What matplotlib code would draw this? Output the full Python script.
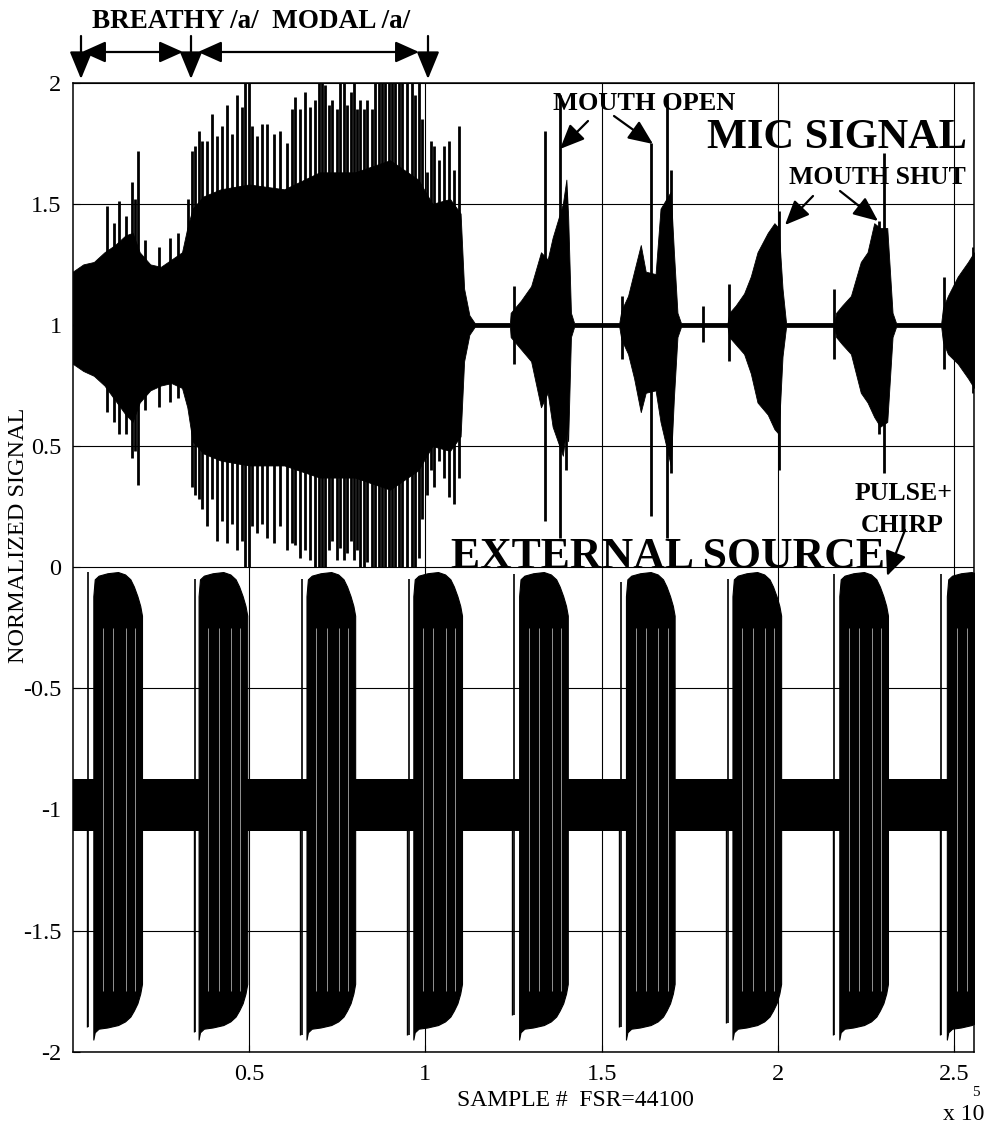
import numpy as np
import matplotlib
matplotlib.use("Agg")
import matplotlib.pyplot as plt
from matplotlib.patches import FancyArrowPatch

plt.rcParams['font.family'] = ['Liberation Serif', 'DejaVu Serif']

# ---------------- data (x in units of 1e5 samples) ----------------
# MIC SIGNAL (centred on +1): dense core envelope
mic_x = [0.000, 0.030, 0.060, 0.090, 0.120, 0.150, 0.170, 0.190, 0.220, 0.250, 0.280, 0.310, 0.325, 0.340,
         0.370, 0.420, 0.500, 0.600, 0.700, 0.800, 0.900, 0.980, 1.020, 1.070, 1.100, 1.110, 1.125, 1.140,
         1.240, 1.242, 1.271, 1.300, 1.328, 1.347, 1.361, 1.390, 1.400, 1.405, 1.413, 1.422,
         1.550, 1.556, 1.575, 1.592, 1.611, 1.625, 1.653, 1.667, 1.696, 1.705, 1.715, 1.725,
         1.857, 1.862, 1.880, 1.904, 1.923, 1.942, 1.971, 1.990, 2.002, 2.013, 2.023,
         2.160, 2.165, 2.182, 2.207, 2.235, 2.254, 2.273, 2.290, 2.310, 2.325, 2.335,
         2.463, 2.468, 2.482, 2.510, 2.539, 2.556]
mic_upper = [1.22, 1.25, 1.26, 1.30, 1.33, 1.37, 1.38, 1.30, 1.25, 1.24, 1.27, 1.30, 1.40, 1.48,
             1.53, 1.56, 1.58, 1.56, 1.63, 1.63, 1.68, 1.60, 1.50, 1.52, 1.46, 1.15, 1.04, 1.008,
             1.008, 1.05, 1.10, 1.16, 1.30, 1.27, 1.36, 1.50, 1.60, 1.45, 1.05, 1.008,
             1.008, 1.06, 1.12, 1.22, 1.33, 1.22, 1.21, 1.48, 1.55, 1.30, 1.05, 1.008,
             1.008, 1.05, 1.08, 1.13, 1.20, 1.30, 1.38, 1.42, 1.40, 1.15, 1.008,
             1.008, 1.05, 1.08, 1.12, 1.26, 1.30, 1.42, 1.40, 1.40, 1.05, 1.008,
             1.008, 1.07, 1.12, 1.20, 1.26, 1.30]
mic_lower = [0.84, 0.81, 0.79, 0.75, 0.69, 0.63, 0.60, 0.68, 0.73, 0.75, 0.76, 0.74, 0.66, 0.52,
             0.47, 0.44, 0.42, 0.42, 0.37, 0.37, 0.32, 0.40, 0.50, 0.48, 0.54, 0.85, 0.96, 0.992,
             0.992, 0.95, 0.90, 0.85, 0.66, 0.72, 0.58, 0.46, 0.58, 0.52, 0.95, 0.992,
             0.992, 0.94, 0.88, 0.78, 0.64, 0.72, 0.73, 0.60, 0.42, 0.70, 0.95, 0.992,
             0.992, 0.95, 0.92, 0.88, 0.80, 0.68, 0.63, 0.57, 0.55, 0.87, 0.992,
             0.992, 0.95, 0.92, 0.88, 0.72, 0.68, 0.62, 0.58, 0.60, 0.95, 0.992,
             0.992, 0.93, 0.88, 0.84, 0.78, 0.74]

# MIC SIGNAL: individual peaks sticking out of the core
mic_spike_x = [0.097, 0.117, 0.131, 0.150, 0.167, 0.178, 0.186, 0.205, 0.245, 0.275, 0.300,
               0.328, 0.338, 0.347, 0.357, 0.366, 0.380, 0.395, 0.409, 0.423, 0.437,
               0.452, 0.466, 0.480, 0.490, 0.499, 0.508, 0.522, 0.537, 0.551, 0.570,
               0.589, 0.608, 0.622, 0.631, 0.645, 0.660, 0.674, 0.688, 0.698, 0.707,
               0.716, 0.726, 0.735, 0.750, 0.759, 0.769, 0.778, 0.788, 0.797, 0.807,
               0.816, 0.825, 0.835, 0.849, 0.858, 0.868, 0.877, 0.887, 0.896, 0.906,
               0.915, 0.925, 0.934, 0.948, 0.963, 0.972, 0.982, 0.991, 1.005, 1.015,
               1.024, 1.038, 1.052, 1.067, 1.081, 1.095,
               1.251, 1.338, 1.382, 1.398, 1.557, 1.639, 1.684, 1.696, 1.787, 1.862,
               2.002, 2.160, 2.287, 2.301, 2.470, 2.553]
mic_spike_top = [1.49, 1.42, 1.51, 1.45, 1.59, 1.52, 1.72, 1.35, 1.32, 1.36, 1.38,
                 1.52, 1.72, 1.74, 1.80, 1.76, 1.76, 1.87, 1.78, 1.82, 1.91,
                 1.79, 1.95, 1.90, 2.00, 2.00, 1.82, 1.78, 1.83, 1.83, 1.79,
                 1.80, 1.75, 1.89, 1.94, 1.89, 1.96, 1.90, 1.93, 2.00, 2.00,
                 1.99, 1.91, 1.93, 1.89, 2.00, 2.00, 1.91, 1.96, 2.00, 1.89,
                 1.93, 1.89, 1.93, 1.89, 2.00, 2.00, 2.00, 2.00, 2.00, 2.00,
                 2.00, 2.00, 2.00, 2.00, 2.00, 1.95, 2.00, 1.85, 1.63, 1.76,
                 1.74, 1.68, 1.74, 1.76, 1.64, 1.82,
                 1.16, 1.80, 1.95, 1.55, 1.12, 1.75, 1.95, 1.64, 1.08, 1.17,
                 1.47, 1.15, 1.43, 1.71, 1.20, 1.32]
mic_spike_bottom = [0.64, 0.60, 0.55, 0.55, 0.45, 0.48, 0.34, 0.65, 0.66, 0.68, 0.70,
                    0.69, 0.33, 0.30, 0.28, 0.24, 0.17, 0.28, 0.11, 0.19, 0.10,
                    0.18, 0.07, 0.11, 0.00, 0.00, 0.17, 0.14, 0.18, 0.12, 0.10,
                    0.17, 0.07, 0.10, 0.09, 0.04, 0.07, 0.03, 0.00, 0.00, 0.00,
                    0.00, 0.07, 0.11, 0.03, 0.08, 0.03, 0.06, 0.11, 0.03, 0.07,
                    0.00, 0.00, 0.02, 0.00, 0.00, 0.00, 0.00, 0.00, 0.00, 0.00,
                    0.00, 0.00, 0.00, 0.00, 0.00, 0.00, 0.04, 0.20, 0.30, 0.40,
                    0.33, 0.44, 0.37, 0.29, 0.26, 0.37,
                    0.84, 0.19, 0.12, 0.40, 0.86, 0.21, 0.12, 0.39, 0.93, 0.85,
                    0.40, 0.86, 0.55, 0.39, 0.82, 0.72]

# EXTERNAL SOURCE (centred on -1): background noise band
ext_band_x = [0.000, 2.556]
ext_band_top = [-0.875, -0.875]
ext_band_bottom = [-1.09, -1.09]

# pulse + chirp bursts: start of each chirp and its shape (offset from start)
chirp_start = [0.0585, 0.357, 0.663, 0.966, 1.266, 1.569, 1.871, 2.174, 2.479]
chirp_offset = [0.000, 0.004, 0.015, 0.040, 0.070, 0.090, 0.105, 0.115, 0.125, 0.133, 0.138]
chirp_top = [-0.12, -0.05, -0.035, -0.025, -0.02, -0.03, -0.05, -0.08, -0.12, -0.16, -0.20]
chirp_bottom = [-1.95, -1.92, -1.905, -1.90, -1.89, -1.875, -1.855, -1.83, -1.80, -1.76, -1.72]
chirp_gap_offset = [0.028, 0.057, 0.092, 0.118]

pulse_x = [0.0444, 0.347, 0.650, 0.953, 1.251, 1.554, 1.857, 2.160, 2.463]
pulse_top = [-0.02, -0.05, -0.05, -0.05, -0.03, -0.06, -0.05, -0.03, -0.03]
pulse_bottom = [-1.90, -1.92, -1.93, -1.93, -1.85, -1.90, -1.88, -1.93, -1.93]

x_ticks = [0.5, 1.0, 1.5, 2.0, 2.5]
x_tick_labels = ['0.5', '1', '1.5', '2', '2.5']
y_ticks = [-2, -1.5, -1, -0.5, 0, 0.5, 1, 1.5, 2]
y_tick_labels = ['-2', '-1.5', '-1', '-0.5', '0', '0.5', '1', '1.5', '2']

# ---------------- figure ----------------
W, H = 993, 1129
fig = plt.figure(figsize=(W / 100, H / 100), dpi=100)
L, R, T, B = 72.7, 974.0, 82.7, 1051.7
ax = fig.add_axes([L / W, 1 - B / H, (R - L) / W, (B - T) / H])
ax.set_xlim(0, 2.556)
ax.set_ylim(-2, 2)

# mic signal
ax.fill_between(mic_x, mic_lower, mic_upper, color='k', lw=0.6, zorder=2)
ax.vlines(mic_spike_x, mic_spike_bottom, mic_spike_top, color='k', lw=2.0, zorder=2)

# external source
ax.fill_between(ext_band_x, ext_band_bottom, ext_band_top, color='k', lw=0, zorder=2)
off = np.array(chirp_offset)
for s in chirp_start:
    ax.fill_between(s + off, chirp_bottom, chirp_top, color='k', lw=0.8, zorder=3)
    ax.vlines(s + np.array(chirp_gap_offset), -1.75, -0.25, color='w', lw=0.4, zorder=4)
ax.vlines(pulse_x, pulse_bottom, pulse_top, color='k', lw=1.2, zorder=3)
ax.vlines(np.array(pulse_x) - 0.004, pulse_bottom, -1.0, color='k', lw=1.0, zorder=3)

# axes cosmetics
ax.set_xticks(x_ticks)
ax.set_xticklabels(x_tick_labels)
ax.set_yticks(y_ticks)
ax.set_yticklabels(y_tick_labels)
ax.tick_params(direction='in', length=5, width=0.8, labelsize=17.5, colors='k')
ax.tick_params(axis='y', pad=8)
ax.tick_params(axis='x', pad=9)
ax.grid(True, color='k', lw=0.8)
ax.set_axisbelow(False)
for sp in ax.spines.values():
    sp.set_linewidth(1.1)


def fx(x):
    return x / W


def fy(y):
    return 1 - y / H


# axis labels
fig.text(fx(575), fy(1101), 'SAMPLE #  FSR=44100', ha='center', va='center', fontsize=17)
fig.text(fx(19), fy(535), 'NORMALIZED SIGNAL', ha='center', va='center', rotation=90, fontsize=17.5)
fig.text(fx(964), fy(1114), 'x 10', ha='center', va='center', fontsize=17)
fig.text(fx(976), fy(1092), '5', ha='center', va='center', fontsize=11)

# annotations
bold = dict(fontweight='bold', color='k')
fig.text(fx(251), fy(22), 'BREATHY /a/  MODAL /a/', ha='center', va='center', fontsize=19.5, **bold)
fig.text(fx(837), fy(138), 'MIC SIGNAL', ha='center', va='center', fontsize=30.5, **bold)
fig.text(fx(644), fy(103), 'MOUTH OPEN', ha='center', va='center', fontsize=19, **bold)
fig.text(fx(877), fy(177), 'MOUTH SHUT', ha='center', va='center', fontsize=18.5, **bold)
fig.text(fx(904), fy(494), 'PULSE+', ha='center', va='center', fontsize=18.5, **bold)
fig.text(fx(902), fy(525), 'CHIRP', ha='center', va='center', fontsize=18.5, **bold)
fig.text(fx(668), fy(568), 'EXTERNAL SOURCE', ha='center', va='baseline', fontsize=31.5, **bold)


def arrow(x0, y0, x1, y1, style):
    a = FancyArrowPatch((fx(x0), fy(y0)), (fx(x1), fy(y1)), transform=fig.transFigure,
                        arrowstyle=style, mutation_scale=10, color='k', lw=1.6,
                        shrinkA=0, shrinkB=0)
    fig.add_artist(a)


down = '-|>,head_length=1.7,head_width=0.7'
for xd in (81, 191, 428):
    arrow(xd, 36, xd, 79, down)
dbl = '<|-|>,head_length=1.45,head_width=0.65'
arrow(82, 52, 183, 52, dbl)
arrow(198, 52, 419, 52, dbl)

small = '-|>,head_length=1.5,head_width=0.65'
arrow(588, 121, 560, 149, small)
arrow(614, 116, 653, 144, small)
arrow(813, 196, 785, 225, small)
arrow(840, 191, 878, 221, small)
arrow(905, 530, 887, 576, small)

fig.savefig('out.png', dpi=100)
